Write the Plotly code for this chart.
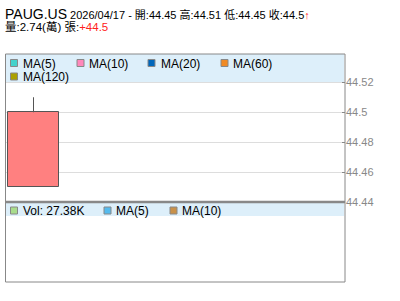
import plotly.graph_objects as go

# ---- data ----
symbol = "PAUG.US"
dates = ["2026/04/17"]
opens = [44.45]
highs = [44.51]
lows = [44.45]
closes = [44.5]
volume_wan = [2.74]
volume_k = [27.38]
change = [44.5]
price_ticks = [44.44, 44.46, 44.48, 44.5, 44.52]
price_ticktext = ["44.44", "44.46", "44.48", "44.5", "44.52"]
ma_labels = ["MA(5)", "MA(10)", "MA(20)", "MA(60)", "MA(120)"]
ma_colors = ["#44D2CC", "#FF88BB", "#0066BB", "#F08A24", "#AAA000"]
vol_labels = ["Vol: %.2fK" % volume_k[0], "MA(5)", "MA(10)"]
vol_colors = ["#A8DC8C", "#55BBEE", "#C8914A"]

W, H = 400, 301
def px(x): return x / W
def py(y): return 1 - y / H

FONT = "Liberation Sans, Arial, Noto Sans CJK TC, sans-serif"

fig = go.Figure()

# candle body
fig.add_trace(go.Bar(
    x=[0], y=[closes[0] - opens[0]], base=[opens[0]], width=[1.0],
    marker=dict(color="#FF8080", line=dict(color="#555555", width=1)),
    xaxis="x", yaxis="y", showlegend=False, hoverinfo="skip"))
# upper wick
fig.add_trace(go.Scatter(
    x=[0, 0], y=[max(opens[0], closes[0]), highs[0]], mode="lines",
    line=dict(color="#555555", width=1), showlegend=False, hoverinfo="skip",
    xaxis="x", yaxis="y"))
# lower wick
fig.add_trace(go.Scatter(
    x=[0, 0], y=[lows[0], min(opens[0], closes[0])], mode="lines",
    line=dict(color="#555555", width=1), showlegend=False, hoverinfo="skip",
    xaxis="x", yaxis="y"))

xl, xr = 6, 345
top, sep, bot = 54, 202, 282
cw = 51.0
x0 = -0.5 - 2.0 / cw
x1 = x0 + (xr - xl) / cw
ppu = (201.7 - 82.0) / 0.08  # pixels per price unit
ytop = 44.44 + (202 - top) / ppu

fig.update_layout(
    template="none",
    width=W, height=H, margin=dict(l=0, r=0, t=0, b=0, pad=0, autoexpand=False),
    paper_bgcolor="white", plot_bgcolor="white",
    font=dict(family=FONT, size=12, color="black"),
    bargap=0, showlegend=False,
    xaxis=dict(domain=[px(xl), px(xr)], range=[x0, x1], showgrid=False, showline=False,
               showticklabels=False, ticks="", zeroline=False, anchor="y",
               fixedrange=True, automargin=False),
    yaxis=dict(domain=[py(sep), py(top)], range=[44.44, ytop], side="right",
               tickvals=price_ticks, ticktext=price_ticktext, ticks="inside",
               ticklen=3, tickcolor="#888888", showline=False,
               tickfont=dict(size=11, color="#888888", family=FONT),
               showgrid=True, gridcolor="#DDDDDD", gridwidth=1, zeroline=False,
               anchor="x", fixedrange=True, automargin=False),
    xaxis2=dict(domain=[px(xl), px(xr)], range=[x0, x1], showgrid=False, showline=False,
                showticklabels=False, ticks="", zeroline=False, anchor="y2", automargin=False),
    yaxis2=dict(domain=[py(bot), py(sep)], range=[0, 1], showgrid=False, showline=False,
                showticklabels=False, ticks="", zeroline=False, anchor="x2", automargin=False),
)

shapes = []
# legend bands
shapes.append(dict(type="rect", xref="paper", yref="paper", x0=px(xl), x1=px(xr - 1),
                   y0=py(82), y1=py(top), fillcolor="#DDEFFA", line=dict(width=0), layer="above"))
shapes.append(dict(type="rect", xref="paper", yref="paper", x0=px(xl), x1=px(xr - 1),
                   y0=py(216), y1=py(sep + 1), fillcolor="#DDEFFA", line=dict(width=0), layer="above"))
# frame
shapes.append(dict(type="rect", xref="paper", yref="paper", x0=px(xl - 0.5), x1=px(xr),
                   y0=py(bot), y1=py(top), line=dict(color="#888888", width=1), layer="above"))
# separator
shapes.append(dict(type="line", xref="paper", yref="paper", x0=px(xl), x1=px(xr),
                   y0=py(sep), y1=py(sep), line=dict(color="#888888", width=2.5), layer="above"))

annotations = []
def legend_item(sx, sy, color, label, tx):
    shapes.append(dict(type="rect", xref="paper", yref="paper",
                       x0=px(sx), x1=px(sx + 7), y0=py(sy + 7), y1=py(sy),
                       fillcolor=color, line=dict(color="#888888", width=1), layer="above"))
    annotations.append(dict(xref="paper", yref="paper", x=px(tx), y=py(sy + 4),
                            xanchor="left", yanchor="middle", showarrow=False,
                            text=label, font=dict(size=12, color="black", family=FONT)))

ma_pos = [(10.5, 59.5, 21), (77, 59.5, 87), (148, 59.5, 159), (221, 59.5, 231), (10.5, 73, 21)]
for (sx, sy, tx), c, lab in zip(ma_pos, ma_colors, ma_labels):
    legend_item(sx, sy, c, lab, tx)
vol_pos = [(10.5, 207, 21), (104, 207, 114), (170, 207, 180)]
for (sx, sy, tx), c, lab in zip(vol_pos, vol_colors, vol_labels):
    legend_item(sx, sy, c, lab, tx)

line1 = ("<span style='font-size:14px'>%s</span> %s - 開:%.2f 高:%.2f 低:%.2f 收:%s"
         "<span style='color:#FF2020'><b>↑</b></span>") % (
    symbol, dates[0], opens[0], highs[0], lows[0], ("%g" % closes[0]))
line2 = "量:%.2f(萬) 張:<span style='color:#FF2020'>+%g</span>" % (volume_wan[0], change[0])
annotations.append(dict(xref="paper", yref="paper", x=px(4), y=py(14), xanchor="left",
                        yanchor="middle", showarrow=False, text=line1, borderpad=0,
                        font=dict(size=11, color="black", family=FONT)))
annotations.append(dict(xref="paper", yref="paper", x=px(4), y=py(27.5), xanchor="left",
                        yanchor="middle", showarrow=False, text=line2, borderpad=0,
                        font=dict(size=11.5, color="black", family=FONT)))

fig.update_layout(shapes=shapes, annotations=annotations)
fig.write_html("out.html")
